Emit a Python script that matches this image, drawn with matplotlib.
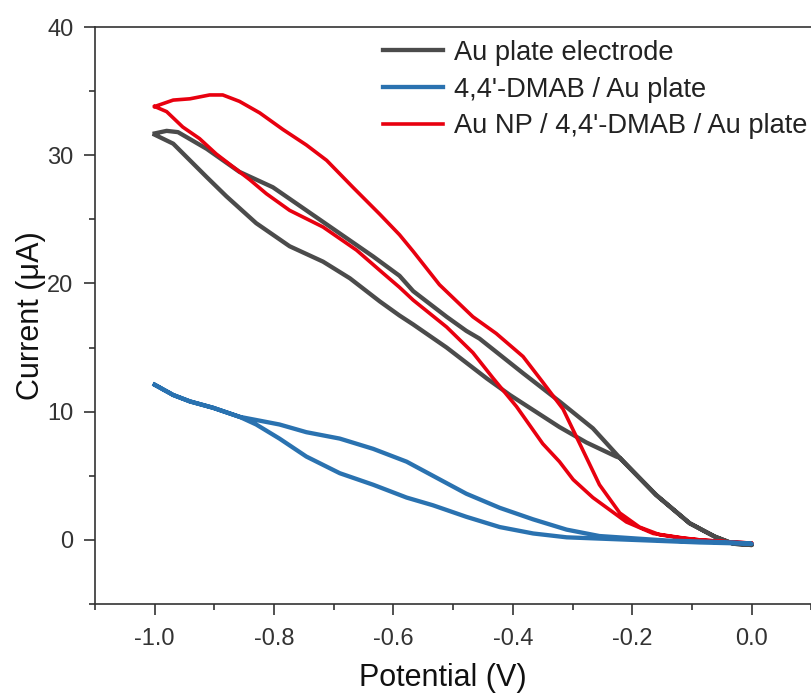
import matplotlib
matplotlib.use('Agg')
import matplotlib.pyplot as plt
from matplotlib.ticker import MultipleLocator

plt.rcParams['font.family'] = ['Liberation Sans', 'DejaVu Sans']

# Au plate electrode (two sweeps of the CV loop)
gray_up_v = [-1.0, -0.980, -0.961, -0.913, -0.858, -0.802, -0.746, -0.690, -0.634, -0.590,
             -0.567, -0.511, -0.478, -0.456, -0.383, -0.322, -0.266, -0.221, -0.160, -0.104,
             -0.062, -0.031, 0.0]
gray_up_i = [31.7, 31.9, 31.8, 30.5, 28.7, 27.5, 25.7, 23.9, 22.1, 20.6,
             19.4, 17.4, 16.3, 15.7, 13.0, 10.8, 8.7, 6.4, 3.5, 1.3,
             0.26, -0.3, -0.4]
gray_lo_v = [-1.0, -0.969, -0.913, -0.880, -0.830, -0.774, -0.718, -0.673, -0.623, -0.590,
             -0.567, -0.511, -0.444, -0.405, -0.322, -0.277, -0.227, -0.221, -0.160, -0.104,
             -0.062, -0.031, 0.0]
gray_lo_i = [31.6, 30.9, 28.3, 26.8, 24.7, 22.9, 21.7, 20.4, 18.6, 17.5,
             16.8, 15.0, 12.6, 11.3, 8.8, 7.6, 6.5, 6.4, 3.5, 1.3,
             0.26, -0.3, -0.4]

# 4,4'-DMAB / Au plate
blue_up_v = [-1.0, -0.969, -0.941, -0.902, -0.858, -0.830, -0.791, -0.746, -0.690, -0.634,
             -0.578, -0.534, -0.478, -0.422, -0.366, -0.310, -0.255, -0.143, -0.031, 0.0]
blue_up_i = [12.1, 11.3, 10.8, 10.3, 9.6, 9.35, 9.0, 8.4, 7.9, 7.1,
             6.1, 5.0, 3.6, 2.5, 1.6, 0.8, 0.3, -0.05, -0.2, -0.3]
blue_lo_v = [-1.0, -0.969, -0.941, -0.902, -0.858, -0.830, -0.791, -0.746, -0.690, -0.634,
             -0.578, -0.534, -0.478, -0.422, -0.366, -0.310, -0.199, -0.087, 0.0]
blue_lo_i = [12.1, 11.3, 10.8, 10.3, 9.6, 9.0, 7.9, 6.5, 5.2, 4.3,
             3.3, 2.7, 1.8, 1.0, 0.5, 0.2, 0.0, -0.2, -0.3]

# Au NP / 4,4'-DMAB / Au plate
red_up_v = [-1.0, -0.969, -0.941, -0.908, -0.886, -0.858, -0.824, -0.785, -0.746, -0.712,
            -0.668, -0.623, -0.590, -0.567, -0.523, -0.467, -0.428, -0.383, -0.350, -0.316,
            -0.288, -0.255, -0.221, -0.188, -0.154, -0.115, -0.087, -0.04, 0.0]
red_up_i = [33.8, 34.3, 34.4, 34.7, 34.7, 34.2, 33.3, 32.0, 30.8, 29.6,
            27.5, 25.4, 23.8, 22.5, 19.9, 17.4, 16.1, 14.3, 12.3, 10.2,
            7.5, 4.3, 2.1, 1.0, 0.4, 0.13, 0.0, -0.15, -0.25]
red_lo_v = [-1.0, -0.980, -0.953, -0.925, -0.897, -0.869, -0.841, -0.813, -0.774, -0.718,
            -0.662, -0.620, -0.590, -0.567, -0.511, -0.467, -0.433, -0.394, -0.350, -0.322,
            -0.299, -0.266, -0.210, -0.165, -0.115, -0.087, -0.04, 0.0]
red_lo_i = [33.8, 33.4, 32.2, 31.3, 30.1, 29.1, 28.1, 27.0, 25.7, 24.4,
            22.6, 20.9, 19.7, 18.7, 16.6, 14.6, 12.6, 10.4, 7.5, 6.1,
            4.7, 3.3, 1.4, 0.5, 0.15, 0.0, -0.15, -0.25]

labels = ['Au plate electrode', "4,4'-DMAB / Au plate", "Au NP / 4,4'-DMAB / Au plate"]
colors = ['#4b4b4b', '#2a72b0', '#e8000f']

fig = plt.figure(figsize=(8.11, 6.93), dpi=100)
ax = fig.add_axes([95 / 811, 89 / 693, 716.4 / 811, 577 / 693])

def loop(up_v, up_i, lo_v, lo_i):
    return up_v + lo_v[::-1], up_i + lo_i[::-1]

v, i = loop(gray_up_v, gray_up_i, gray_lo_v, gray_lo_i)
l1, = ax.plot(v, i, color=colors[0], lw=3.1, zorder=2, solid_joinstyle='round')
v, i = loop(red_up_v, red_up_i, red_lo_v, red_lo_i)
l3, = ax.plot(v, i, color=colors[2], lw=2.6, zorder=3, solid_joinstyle='round')
v, i = loop(blue_up_v, blue_up_i, blue_lo_v, blue_lo_i)
l2, = ax.plot(v, i, color=colors[1], lw=3.1, zorder=4, solid_joinstyle='round')

ax.set_xlim(-1.1, 0.1)
ax.set_ylim(-5, 40)
ax.xaxis.set_minor_locator(MultipleLocator(0.1))
ax.yaxis.set_minor_locator(MultipleLocator(5))
ax.set_xticks([-1.0, -0.8, -0.6, -0.4, -0.2, 0.0])
ax.set_xticklabels(['-1.0', '-0.8', '-0.6', '-0.4', '-0.2', '0.0'])
ax.set_yticks([0, 10, 20, 30, 40])

for s in ['left', 'bottom', 'top']:
    ax.spines[s].set_color('#333333')
    ax.spines[s].set_linewidth(1.2)
ax.spines['right'].set_visible(False)

ax.tick_params(which='major', direction='out', length=8, width=1.2, color='#333333',
               labelsize=17, labelcolor='#333333')
ax.tick_params(axis='x', which='major', pad=9.5)
ax.tick_params(axis='y', which='major', pad=7.5)
ax.tick_params(which='minor', direction='out', length=4, width=1.2, color='#333333')
ax.tick_params(top=False, right=False, which='both')

ax.set_xlabel('Potential (V)', fontsize=22, color='#111111', va='center')
ax.xaxis.set_label_coords(0.485, -0.128)
ax.set_ylabel('Current (\u03bcA)', fontsize=22, color='#111111', va='center')
ax.yaxis.set_label_coords(-0.09, 0.5)

ax.legend([l1, l2, l3], labels, loc='upper left', bbox_to_anchor=(0.402, 0.978),
          frameon=False, fontsize=19.6, handlelength=2.2, handletextpad=0.4,
          labelspacing=0.4, borderpad=0, borderaxespad=0, labelcolor='#222222')

fig.savefig('out.png', dpi=100)
